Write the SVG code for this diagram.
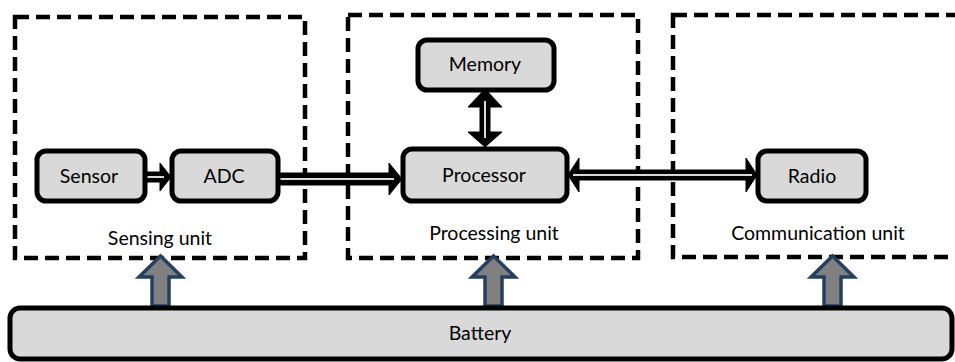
<svg xmlns="http://www.w3.org/2000/svg" width="955" height="362" viewBox="0 0 955 362">
<style>
.unit{fill:none;stroke:#000;stroke-width:4.5;stroke-dasharray:14 7}
.node{fill:#d9d9d9;stroke:#000;stroke-width:5}
.lbl{font-family:Lato,"Open Sans","Liberation Sans",sans-serif;font-size:19.5px;fill:#000;text-anchor:middle}
.conn{fill:#000;stroke:#000;stroke-width:1;stroke-linejoin:miter}
.core{stroke:#d9d9d9;stroke-width:2;fill:none}
.pwr{fill:#808080;stroke:#243f60;stroke-width:3.5}
</style>
<rect width="955" height="362" fill="#fff"/>
<g id="sensing-unit">
<rect class="unit" x="15" y="17" width="290" height="241"/>
<text class="lbl" x="160" y="245">Sensing unit</text>
</g>
<g id="processing-unit">
<rect class="unit" x="348" y="15" width="290" height="243"/>
<text class="lbl" x="494" y="240">Processing unit</text>
</g>
<g id="communication-unit">
<rect class="unit" x="673" y="15" width="300" height="242"/>
<text class="lbl" x="818" y="240">Communication unit</text>
</g>
<g id="connectors">
<path class="conn" d="M145,172 H160 V163 L171,177 L160,191 V182 H145 Z"/>
<line class="core" x1="145" y1="177" x2="164" y2="177"/>
<path class="conn" d="M278,173 H389 V163 L402,179 L389,195 V185 H278 Z"/>
<line class="core" x1="278" y1="179" x2="394" y2="179"/>
<path class="conn" d="M480,107 H468 L485,89 L502,107 H490 V132 H502 L485,147 L468,132 H480 Z"/>
<line class="core" x1="485" y1="101" x2="485" y2="138"/>
<path class="conn" d="M579,170 V158 L568,175 L579,192 V180 H746 V192 L757,175 L746,158 V170 Z"/>
<line class="core" x1="573" y1="175" x2="752" y2="175"/>
<path class="pwr" d="M152,306 V277 H139 L160.5,256 L182,277 H169 V306 Z"/>
<path class="pwr" d="M485,306 V277 H472 L493.5,256 L515,277 H502 V306 Z"/>
<path class="pwr" d="M824,306 V277 H811 L832.5,256 L854,277 H841 V306 Z"/>
</g>
<g id="sensor">
<rect class="node" x="37" y="151" width="108" height="50" rx="9"/>
<text class="lbl" x="89" y="183">Sensor</text>
</g>
<g id="adc">
<rect class="node" x="172" y="151" width="106" height="50" rx="9"/>
<text class="lbl" x="224" y="183">ADC</text>
</g>
<g id="memory">
<rect class="node" x="418" y="40" width="136" height="50" rx="9"/>
<text class="lbl" x="485" y="71">Memory</text>
</g>
<g id="processor">
<rect class="node" x="403" y="149" width="164" height="52" rx="9"/>
<text class="lbl" x="484" y="182">Processor</text>
</g>
<g id="radio">
<rect class="node" x="758" y="151" width="108" height="50" rx="9"/>
<text class="lbl" x="812" y="183">Radio</text>
</g>
<g id="battery">
<rect class="node" x="10" y="308" width="942" height="51" rx="10"/>
<text class="lbl" x="480" y="340">Battery</text>
</g>
</svg>
